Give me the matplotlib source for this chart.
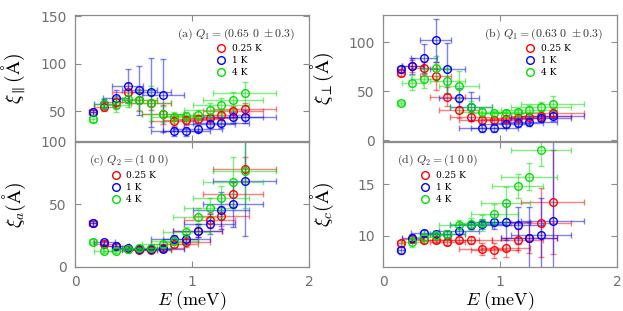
import matplotlib
matplotlib.use('Agg')

import matplotlib.pyplot as plt
from matplotlib.lines import Line2D
import numpy as np

plt.rcParams['mathtext.fontset'] = 'cm'

# energy transfer (meV) and its resolution half-width
E = [0.15, 0.25, 0.35, 0.45, 0.55, 0.65, 0.75, 0.85, 0.95, 1.05, 1.15, 1.25, 1.35, 1.45]
E_err = [0.03, 0.09, 0.11, 0.13, 0.15, 0.17, 0.18, 0.2, 0.2, 0.21, 0.22, 0.24, 0.26, 0.27]

temps = ['0.25 K', '1 K', '4 K']
colors = ['#ff0000', '#0000ff', '#00e000']

# (a) xi_parallel, Q1 = (0.65 0 +-0.3)
xa_025 = [49, 55, 60, 70, 62, 59, 47, 40, 40.5, 42, 43.5, 46.5, 50, 53]
xa_1 = [49, 57.7, 64, 76.8, 72, 70, 66.7, 29, 29, 32, 36.8, 38, 43.7, 44.5]
xa_4 = [42, 57.7, 57, 63.3, 62, 58.4, 47.3, 43.7, 44.8, 46.5, 51.8, 56.3, 62, 69.2]
ea_025 = [3, 5, 6, 10, 12, 8, 10, 5, 5, 4, 4, 5, 6, 6]
ea_1 = [3, 5, 8, 18, 26, 36, 38, 5, 5, 4, 4, 5, 6, 7]
ea_4 = [3, 6, 8, 9, 10, 18, 8, 6, 5, 5, 7, 8, 8, 12]

# (b) xi_perp, Q1 = (0.63 0 +-0.3)
xb_025 = [69, 75.8, 73.5, 65.6, 44.5, 31, 24, 20.7, 20.7, 21.4, 23, 24, 24.8, 27.5]
xb_1 = [72.4, 75.8, 83.7, 102, 73, 43.5, 34.3, 12.2, 12.5, 16.3, 17.3, 18.7, 23, 24.8]
xb_4 = [37.7, 58.8, 62.9, 73.5, 60.5, 55.4, 34.3, 28.9, 27.2, 27.5, 28.2, 31, 34.3, 36.7]
eb_025 = [3, 6, 6, 14, 10, 8, 5, 4, 4, 4, 4, 4, 5, 5]
eb_1 = [3, 8, 15, 22, 26, 10, 15, 4, 4, 4, 4, 4, 4, 5]
eb_4 = [2, 8, 10, 13, 12, 15, 6, 4, 3, 3, 4, 5, 5, 8]

# (c) xi_a, Q2 = (1 0 0)
xc_025 = [35, 18.5, 16.6, 14.5, 13.9, 13.9, 15, 18, 20, 29.1, 37.2, 40.6, 58, 78]
xc_1 = [35, 19.8, 17.1, 15, 14.5, 14.5, 14.5, 22.4, 22.4, 29.1, 34.5, 45.2, 50, 68.4]
xc_4 = [20.3, 13.1, 13.1, 14.5, 15, 15, 18, 21, 27.8, 39.8, 47, 55, 68, 77]
ec_025 = [2, 2, 2, 2, 2, 2, 2, 3, 4, 5, 6, 8, 10, 10]
ec_1 = [2, 2, 2, 2, 2, 2, 2, 3, 4, 5, 8, 15, 18, 44]
ec_4 = [2, 2, 2, 2, 2, 2, 2, 3, 4, 7, 8, 10, 20, 30]

# (d) xi_c, Q2 = (1 0 0)
xd_025 = [9.32, 9.7, 9.65, 9.6, 9.42, 9.6, 9.6, 8.77, 8.6, 8.87, 9.65, 9.85, 11.3, 13.3]
xd_1 = [8.6, 9.84, 10.3, 10.17, 10.15, 10.45, 11.04, 11.14, 11.4, 11.37, 11.04, 9.84, 10.13, 11.47]
xd_4 = [np.nan, 9.4, 9.87, 10.1, 10.2, 11.07, 11.17, 11.27, 12.1, 13.2, 14.84, 15.75, 18.3, np.nan]
ed_025 = [0.3, 0.4, 0.3, 0.3, 0.3, 0.3, 0.4, 0.6, 0.7, 0.9, 1.0, 1.5, 3.3, 5.0]
ed_1 = [0.3, 0.4, 0.3, 0.3, 0.3, 0.3, 0.4, 0.5, 0.7, 1.8, 1.8, 3.0, 3.5, 8.0]
ed_4 = [0.5, 0.5, 0.4, 0.4, 0.4, 0.5, 0.6, 0.8, 1.0, 1.5, 1.2, 1.3, 1.5, 0.5]

panels = [
    dict(rect=[0.1204, 0.5466, 0.3756, 0.405], series=[(xa_025, ea_025), (xa_1, ea_1), (xa_4, ea_4)],
         ylim=(19, 151), yticks=[50, 100, 150], ylabel=r'$\xi_{\parallel}(\mathrm{\AA})$',
         text=r'$\mathrm{(a)}\ Q_1 = (0.65\ 0\ \pm0.3)$', tx=0.94, ha='right', leg=0.6, xlab=False),
    dict(rect=[0.6148, 0.5466, 0.3756, 0.405], series=[(xb_025, eb_025), (xb_1, eb_1), (xb_4, eb_4)],
         ylim=(-1, 128), yticks=[0, 50, 100], ylabel=r'$\xi_{\perp}(\mathrm{\AA})$',
         text=r'$\mathrm{(b)}\ Q_1 = (0.63\ 0\ \pm0.3)$', tx=0.94, ha='right', leg=0.605, xlab=False),
    dict(rect=[0.1204, 0.1415, 0.3756, 0.402], series=[(xc_025, ec_025), (xc_1, ec_1), (xc_4, ec_4)],
         ylim=(0, 100), yticks=[0, 50, 100], ylabel=r'$\xi_{a}(\mathrm{\AA})$',
         text=r'$\mathrm{(c)}\ Q_2 = (1\ 0\ 0)$', tx=0.06, ha='left', leg=0.15, xlab=True),
    dict(rect=[0.6148, 0.1415, 0.3756, 0.402], series=[(xd_025, ed_025), (xd_1, ed_1), (xd_4, ed_4)],
         ylim=(7, 19.1), yticks=[10, 15], ylabel=r'$\xi_{c}(\mathrm{\AA})$',
         text=r'$\mathrm{(d)}\ Q_2 = (1\ 0\ 0)$', tx=0.06, ha='left', leg=0.155, xlab=True),
]

fig = plt.figure(figsize=(6.23, 3.11), dpi=100)
grey = '#8c8c8c'

for p in panels:
    ax = fig.add_axes(p['rect'])
    for (vals, errs), c in zip(p['series'], colors):
        ax.errorbar(E, vals, yerr=errs, xerr=E_err, fmt='o', mfc='none', mec=c, mew=1.0,
                    ms=5.5, ecolor=matplotlib.colors.to_rgba(c, 0.5), elinewidth=1.0,
                    capsize=2.5, capthick=1.0)
    ax.set_xlim(0, 2)
    ax.set_ylim(*p['ylim'])
    ax.set_xticks([0, 1, 2])
    ax.set_yticks(p['yticks'])
    ax.tick_params(direction='in', top=True, right=True, length=4, width=0.8,
                   color=grey, labelcolor='#707070', labelsize=10, pad=6)
    if not p['xlab']:
        ax.tick_params(labelbottom=False)
    else:
        ax.set_xlabel(r'$E\ (\mathrm{meV})$', fontsize=13)
        ax.xaxis.set_label_coords(0.5, -0.18)
    for s in ax.spines.values():
        s.set_color(grey)
        s.set_linewidth(0.9)
    ax.set_ylabel(p['ylabel'], fontsize=14)
    ax.yaxis.set_label_coords(-0.2, 0.5)
    ax.text(p['tx'], 0.85, p['text'], transform=ax.transAxes, ha=p['ha'], va='center',
            fontsize=8.5, color='#333333')
    handles = [Line2D([], [], marker='o', ls='none', mfc='none', mec=c, mew=1.0, ms=5.5)
               for c in colors]
    ax.legend(handles, temps, loc='upper left', bbox_to_anchor=(p['leg'], 0.77),
              frameon=False, prop={'family': 'serif', 'size': 6.5}, handlelength=1.2,
              handletextpad=0.6, labelspacing=0.35, borderpad=0, borderaxespad=0)

plt.savefig('out.png', dpi=100)
